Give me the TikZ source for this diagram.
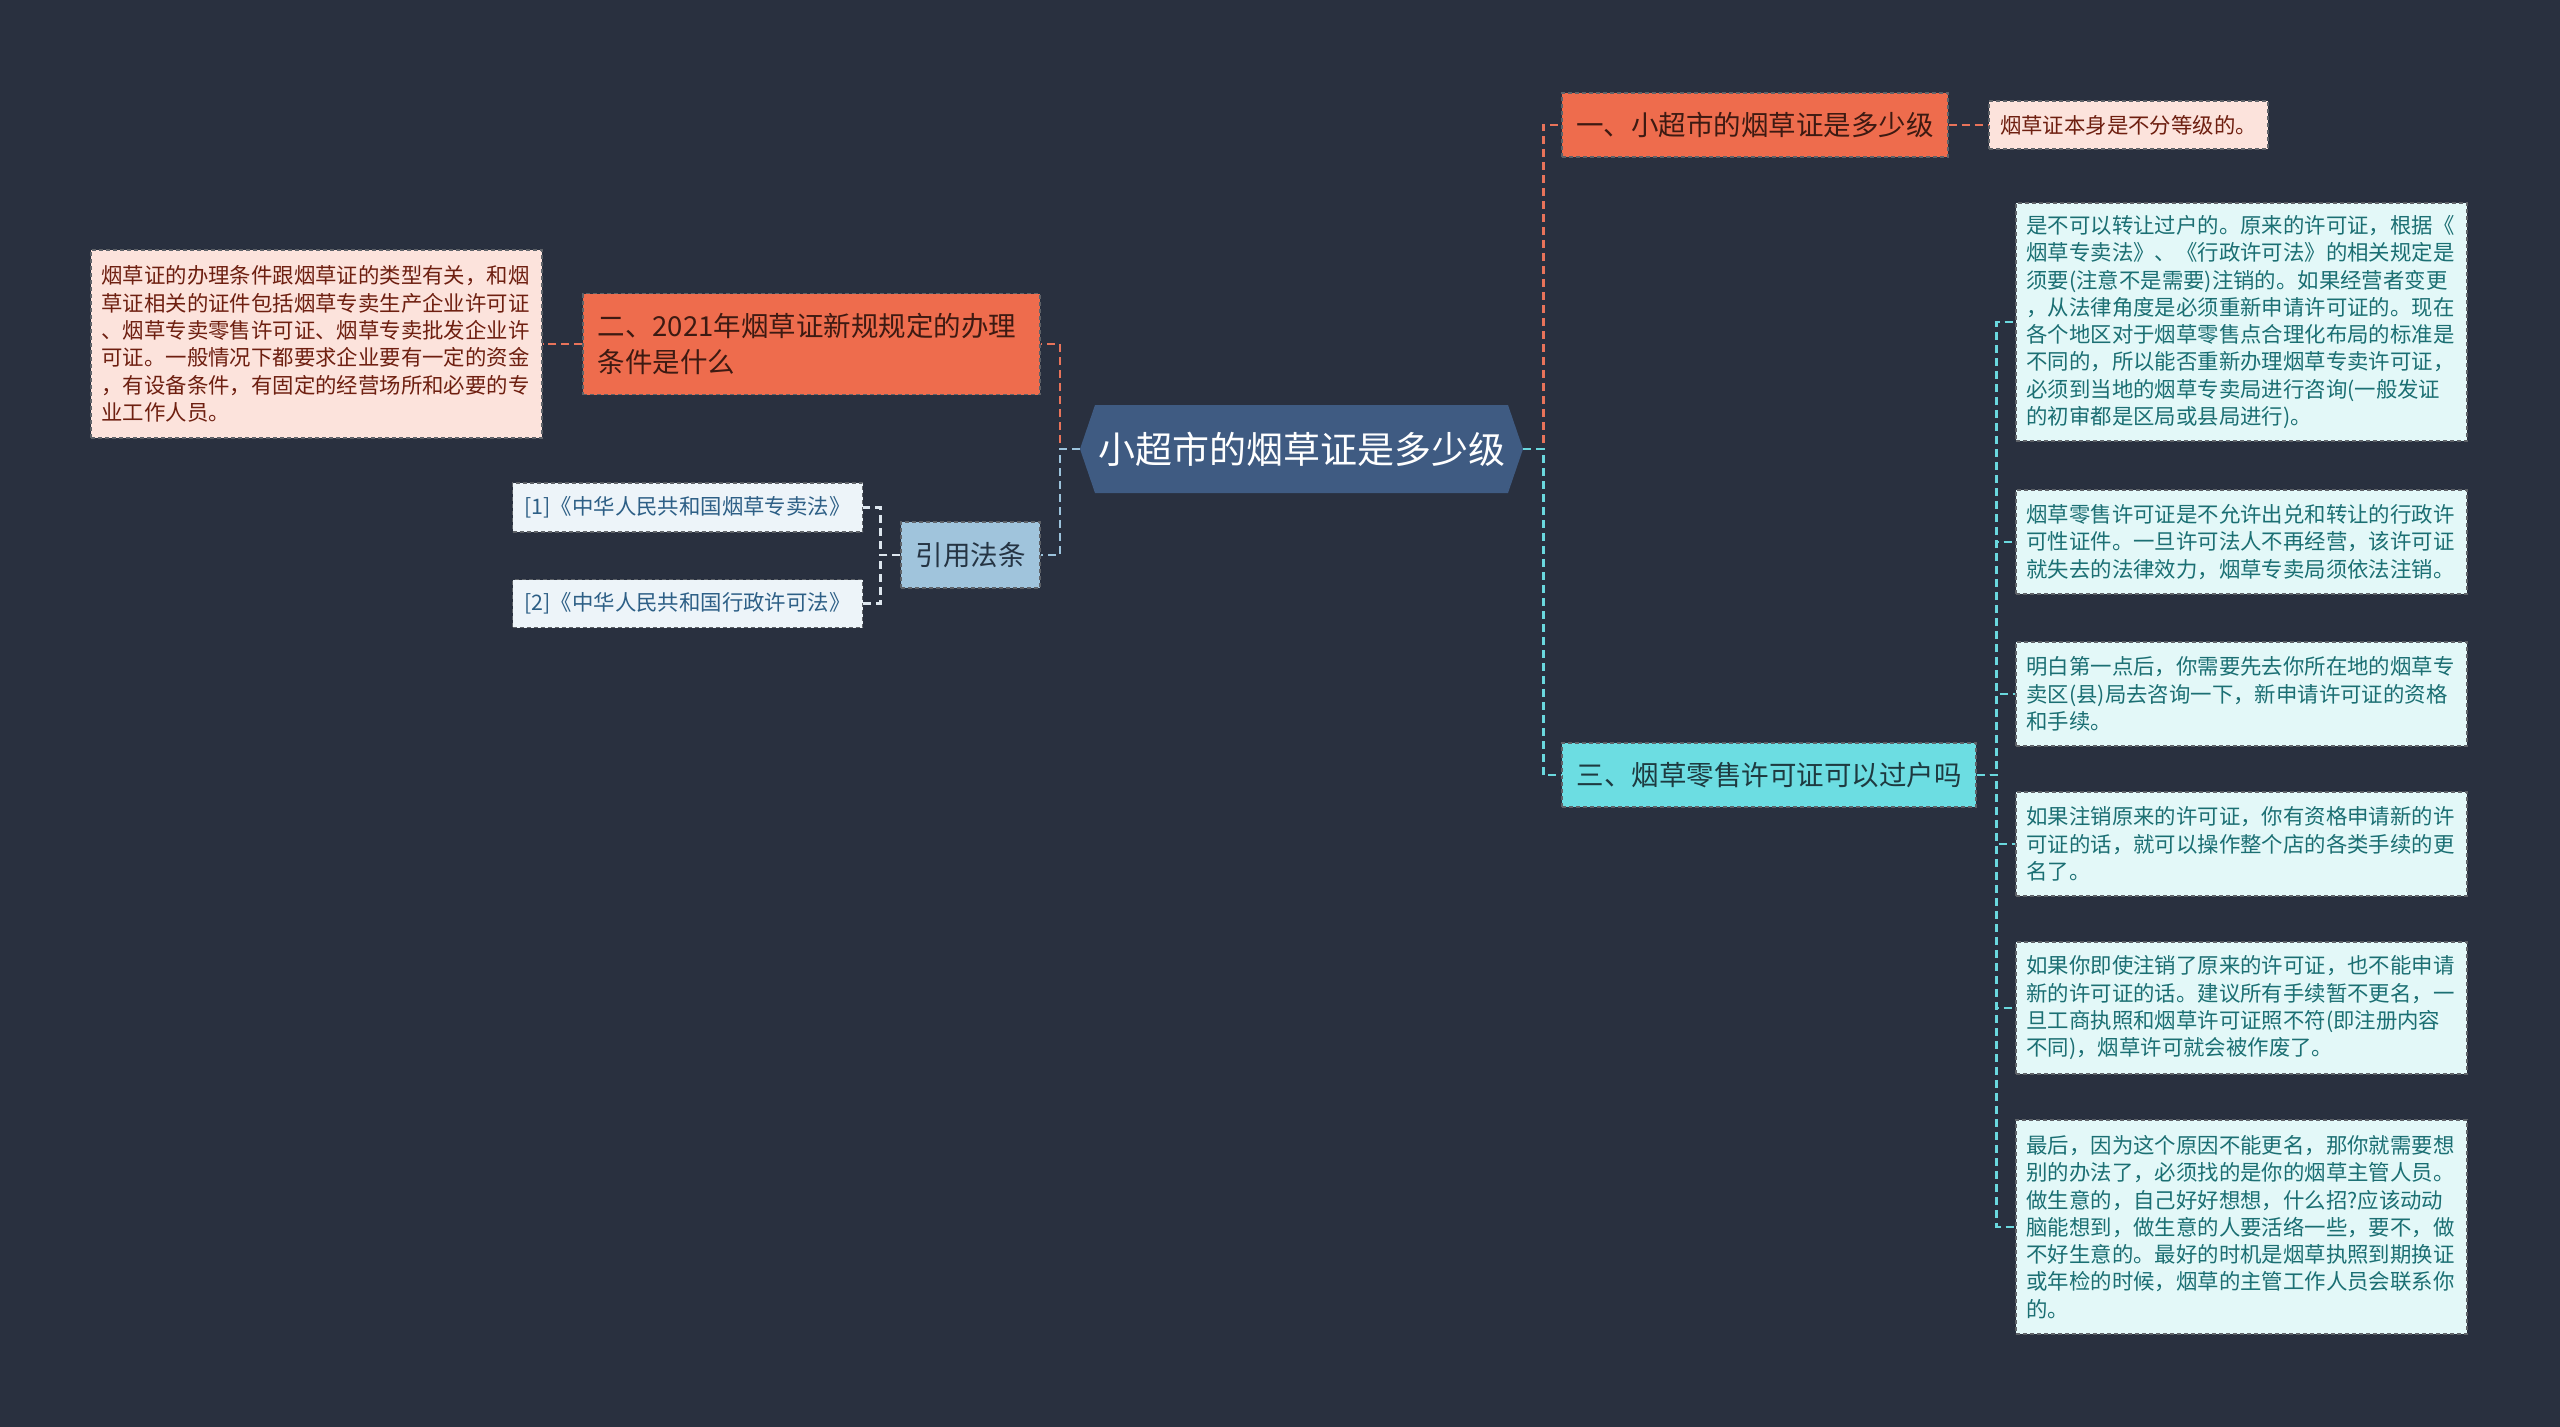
\documentclass[tikz,border=0pt]{standalone}
\usepackage{fontspec}
\newfontfamily\cjk{Noto Sans CJK SC}
\definecolor{bg}{HTML}{29303F}
\definecolor{cfill}{HTML}{3F5B82}
\definecolor{orangefill}{HTML}{EE6C4D}
\definecolor{orangetext}{HTML}{3D1A12}
\definecolor{orangeline}{HTML}{E8735A}
\definecolor{pinkfill}{HTML}{FCE3DC}
\definecolor{pinktext}{HTML}{6E1F10}
\definecolor{cyanfill}{HTML}{6CDDE2}
\definecolor{cyantext}{HTML}{1E3A40}
\definecolor{cyanline}{HTML}{6AD8DE}
\definecolor{cyanleaf}{HTML}{E3F8F8}
\definecolor{cyanleaftext}{HTML}{1B6F73}
\definecolor{bluefill}{HTML}{A0C4DC}
\definecolor{bluetext}{HTML}{253443}
\definecolor{blueline}{HTML}{9CC3DC}
\definecolor{refleaf}{HTML}{EDF4F9}
\definecolor{reftext}{HTML}{2D5F86}
\definecolor{refline}{HTML}{DDE6EE}
\definecolor{border}{HTML}{5E6268}
\begin{document}
\begin{tikzpicture}[x=1pt,y=-1pt,
  box/.style={draw=border, line width=1.3pt, dash pattern=on 4pt off 3pt, inner ysep=0pt},
  smallfont/.style={font=\cjk\fontsize{21.4}{27.3}\selectfont},
  bigfont/.style={font=\cjk\fontsize{27.5}{36}\selectfont},
  leafR/.style={box, smallfont, fill=cyanleaf, text=cyanleaftext, text width=430pt, inner xsep=10.5pt, align=left},
  leafP/.style={box, smallfont, fill=pinkfill, text=pinktext},
  leafB/.style={box, smallfont, fill=refleaf, text=reftext},
  branchO/.style={box, bigfont, fill=orangefill, text=orangetext},
  conn/.style={line width=2.6pt, dash pattern=on 8pt off 5pt}
]
\useasboundingbox (0,0) rectangle (2560,1427);
\fill[bg] (0,0) rectangle (2560,1427);

% central hexagon
\fill[cfill] (1080,449) -- (1095,405) -- (1508,405) -- (1523,449) -- (1508,493) -- (1095,493) -- cycle;
\node[font=\cjk\fontsize{37}{44}\selectfont, text=white, minimum width=443pt, minimum height=88pt, inner sep=0pt] (c) at (1301.5,449) {小超市的烟草证是多少级};

% main branches
\node[branchO, minimum width=386pt, minimum height=64pt, inner xsep=0pt] (n1) at (1755,125) {一、小超市的烟草证是多少级};
\node[branchO, text width=428pt, inner xsep=14.5pt, minimum height=101pt, align=left] (n2) at (811.5,344) {二、2021年烟草证新规规定的办理\\条件是什么};
\node[box, bigfont, fill=cyanfill, text=cyantext, minimum width=414pt, minimum height=64pt, inner xsep=0pt] (n3) at (1769,775) {三、烟草零售许可证可以过户吗};
\node[box, bigfont, fill=bluefill, text=bluetext, minimum width=139pt, minimum height=66pt, inner xsep=0pt] (r) at (970.5,555) {引用法条};

% leaves
\node[leafP, minimum width=279pt, minimum height=48pt, inner xsep=0pt] (l1) at (2128.5,125) {烟草证本身是不分等级的。};
\node[leafP, text width=430pt, inner xsep=10.5pt, align=left, minimum height=188pt] (l2) at (316.5,344) {烟草证的办理条件跟烟草证的类型有关，和烟\\草证相关的证件包括烟草专卖生产企业许可证\\、烟草专卖零售许可证、烟草专卖批发企业许\\可证。一般情况下都要求企业要有一定的资金\\，有设备条件，有固定的经营场所和必要的专\\业工作人员。};
\node[leafB, minimum width=350pt, minimum height=49pt, inner xsep=0pt] (ref1) at (687.5,507.5) {[1]《中华人民共和国烟草专卖法》};
\node[leafB, minimum width=350pt, minimum height=48pt, inner xsep=0pt] (ref2) at (687.5,603.5) {[2]《中华人民共和国行政许可法》};

\node[leafR, minimum height=238pt] (a1) at (2241.5,322) {是不可以转让过户的。原来的许可证，根据《\\烟草专卖法》、《行政许可法》的相关规定是\\须要(注意不是需要)注销的。如果经营者变更\\，从法律角度是必须重新申请许可证的。现在\\各个地区对于烟草零售点合理化布局的标准是\\不同的，所以能否重新办理烟草专卖许可证，\\必须到当地的烟草专卖局进行咨询(一般发证\\的初审都是区局或县局进行)。};
\node[leafR, minimum height=104pt] (a2) at (2241.5,542) {烟草零售许可证是不允许出兑和转让的行政许\\可性证件。一旦许可法人不再经营，该许可证\\就失去的法律效力，烟草专卖局须依法注销。};
\node[leafR, minimum height=104pt] (a3) at (2241.5,694) {明白第一点后，你需要先去你所在地的烟草专\\卖区(县)局去咨询一下，新申请许可证的资格\\和手续。};
\node[leafR, minimum height=104pt] (a4) at (2241.5,844) {如果注销原来的许可证，你有资格申请新的许\\可证的话，就可以操作整个店的各类手续的更\\名了。};
\node[leafR, minimum height=132pt] (a5) at (2241.5,1008) {如果你即使注销了原来的许可证，也不能申请\\新的许可证的话。建议所有手续暂不更名，一\\旦工商执照和烟草许可证照不符(即注册内容\\不同)，烟草许可就会被作废了。};
\node[leafR, minimum height=214pt] (a6) at (2241.5,1227) {最后，因为这个原因不能更名，那你就需要想\\别的办法了，必须找的是你的烟草主管人员。\\做生意的，自己好好想想，什么招?应该动动\\脑能想到，做生意的人要活络一些，要不，做\\不好生意的。最好的时机是烟草执照到期换证\\或年检的时候，烟草的主管工作人员会联系你\\的。};

% connectors from centre
\draw[conn, orangeline] (c.east) -- ++(20,0) |- (n1.west);
\draw[conn, cyanline] (c.east) -- ++(20,0) |- (n3.west);
\draw[conn, orangeline] (c.west) -- ++(-20,0) |- (n2.east);
\draw[conn, blueline] (c.west) -- ++(-20,0) |- (r.east);

% connectors to leaves
\draw[conn, orangeline] (n1.east) -- (l1.west);
\draw[conn, orangeline] (n2.west) -- (l2.east);
\draw[conn, refline] (r.west) -- ++(-20,0) |- (ref1.east);
\draw[conn, refline] (r.west) -- ++(-20,0) |- (ref2.east);
\foreach \k in {a1,a2,a3,a4,a5,a6}
  \draw[conn, cyanline] (n3.east) -- ++(20,0) |- (\k.west);
\end{tikzpicture}
\end{document}
